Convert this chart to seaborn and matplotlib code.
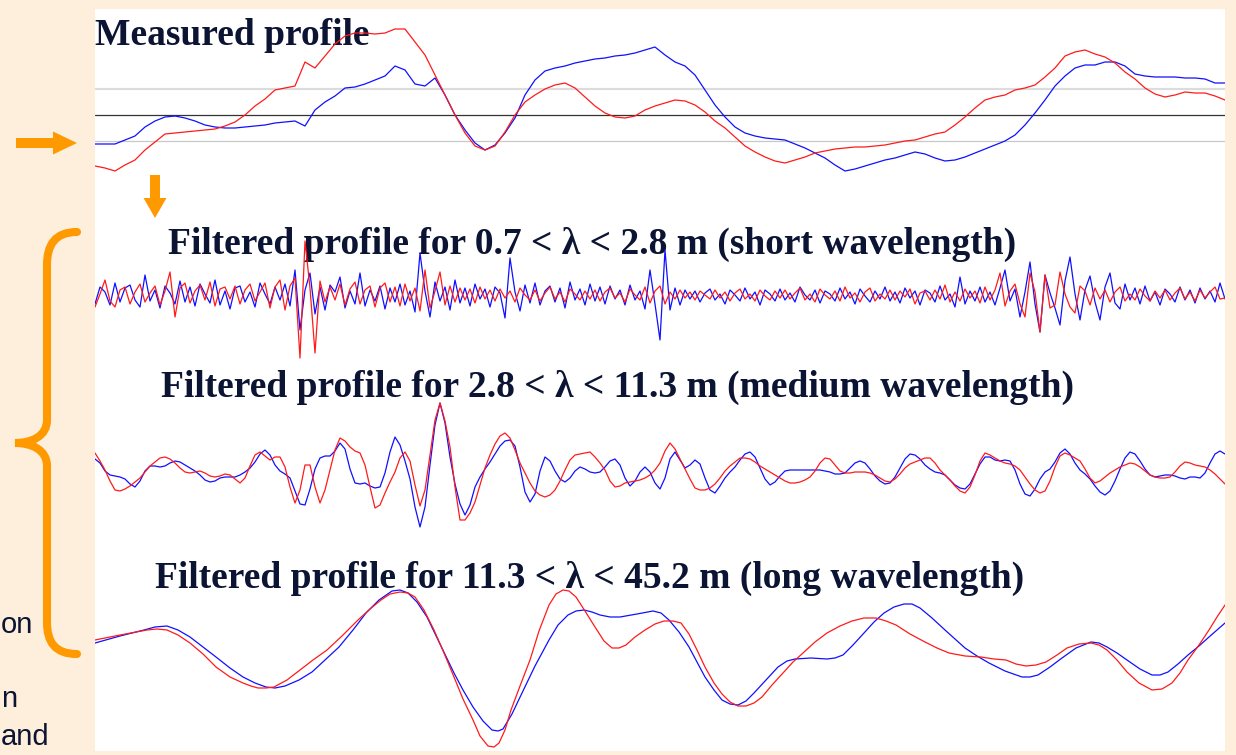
import numpy as np
import pandas as pd
import matplotlib
matplotlib.use("Agg")
import matplotlib.pyplot as plt
import seaborn as sns
from matplotlib.patches import Rectangle, FancyArrow, PathPatch
from matplotlib.path import Path

# -------------------------------------------------------------
# Data: road profile (heights in mm, distance in m), two wheel tracks
# -------------------------------------------------------------
# measured profile, one reading per metre
measured_step = 1.0
measured_blue = [
    -2.9, -2.9, -2.9, -2.5, -2.1, -1.2, -0.6, -0.2, -0.1, -0.3,
    -0.6, -1.0, -1.2, -1.3, -1.3, -1.2, -1.1, -1.0, -0.8, -0.7,
    -0.6, -1.1, 0.5, 1.3, 1.9, 2.7, 2.8, 3.1, 3.5, 3.9,
    4.9, 4.5, 3.1, 2.9, 3.7, 2.0, 0.0, -1.5, -2.8, -3.5,
    -3.0, -1.8, -0.3, 2.0, 3.5, 4.4, 4.7, 4.9, 5.2, 5.4,
    5.6, 5.7, 5.9, 6.0, 6.2, 6.5, 6.8, 6.0, 5.3, 4.9,
    4.0, 2.5, 1.0, -0.2, -1.2, -1.8, -2.1, -2.3, -2.4, -2.5,
    -2.9, -3.3, -3.8, -4.3, -5.0, -5.6, -5.4, -5.1, -4.8, -4.5,
    -4.3, -4.0, -3.7, -3.9, -4.3, -4.6, -4.5, -4.2, -3.8, -3.4,
    -3.0, -2.6, -2.0, -1.0, 0.2, 1.5, 2.9, 3.9, 4.7, 5.0,
    5.0, 5.3, 5.3, 4.9, 4.1, 3.9, 3.8, 3.8, 3.8, 3.7,
    3.7, 3.6, 3.2, 3.2,
]
measured_red = [
    -5.1, -5.3, -5.6, -5.0, -4.5, -3.5, -2.7, -1.9, -1.8, -1.7,
    -1.6, -1.5, -1.4, -1.1, -0.7, 0.0, 0.9, 1.6, 2.5, 2.7,
    2.9, 5.3, 4.7, 5.9, 7.1, 7.9, 8.2, 8.2, 8.1, 8.2,
    8.6, 8.6, 7.3, 6.0, 4.0, 2.0, 0.0, -1.8, -3.1, -3.5,
    -3.1, -1.7, 0.0, 1.3, 2.0, 2.6, 3.0, 3.2, 2.7, 1.8,
    0.9, 0.2, -0.2, -0.3, -0.1, 0.5, 0.9, 1.2, 1.5, 1.4,
    1.0, 0.3, -0.6, -1.3, -2.2, -3.1, -3.7, -4.2, -4.6, -4.8,
    -4.5, -4.2, -3.8, -3.6, -3.4, -3.3, -3.2, -3.2, -3.1, -3.0,
    -2.8, -2.6, -2.5, -2.2, -1.9, -1.7, -1.0, -0.2, 0.7, 1.5,
    1.8, 2.0, 2.5, 2.7, 3.0, 3.8, 4.7, 5.9, 6.3, 6.5,
    6.1, 5.8, 5.2, 4.3, 3.6, 2.7, 2.1, 1.8, 2.0, 2.3,
    2.2, 2.2, 1.9, 1.5,
]

# short wavelength band, one reading every 0.5 m
short_step = 0.5
short_blue = [
    -0.8, 0.9, 0.4, -0.9, 1.3, -0.6, 0.8, 1.1, -0.4, -1.1,
    2.1, -0.5, 0.6, -1.2, 1.0, 0.3, -0.8, 1.5, -0.6, 0.9,
    -1.0, 1.2, 0.2, -0.7, 1.6, -0.9, 0.5, -1.3, 0.8, 1.0,
    -0.6, 0.4, -1.1, 1.3, 0.2, -0.8, 0.9, -0.4, 1.2, -1.0,
    2.6, -3.4, 0.6, 2.3, -1.8, 0.9, -1.4, 1.1, 0.4, 1.9,
    -1.2, 0.5, -0.8, 2.3, -1.0, 0.6, -0.5, 1.0, -1.3, 0.8,
    -0.6, 1.2, -0.9, 0.5, -1.6, 4.3, 0.5, -2.1, 1.4, -0.5,
    0.9, -1.4, 1.6, -0.7, 0.8, -1.0, 1.2, -0.3, 0.7, -1.1,
    0.9, 0.3, -2.2, 3.8, 0.4, -1.5, 1.1, -0.7, 1.3, -0.9,
    0.5, 1.0, -0.6, 0.8, -1.2, 1.4, -0.4, 0.7, -0.9, 1.2,
    -0.5, 0.9, -0.8, 1.0, -0.3, 0.6, -0.9, 1.1, -0.4, 0.5,
    -1.3, 2.6, -0.8, -4.4, 4.6, -1.4, 0.8, -0.9, 0.6, -0.3,
    0.5, -0.6, 0.3, 0.7, -0.4, 0.2, -0.8, 0.6, 0.1, -0.5,
    0.8, -0.3, 0.4, -0.9, 0.6, 0.2, -0.5, 0.7, -0.4, 0.3,
    -0.6, 0.9, 0.1, -0.4, 0.6, -0.7, 0.5, 0.2, -0.5, 0.8,
    -0.3, 0.4, -0.8, 0.7, 0.0, -0.6, 0.5, -0.3, 0.9, -0.5,
    0.4, -0.7, 0.8, -0.2, 0.5, -0.9, 0.6, 0.3, -0.6, 1.0,
    -0.4, 0.2, -1.1, 1.9, -0.8, 0.5, -0.5, 0.9, -0.6, 0.4,
    -0.9, 0.8, 2.6, -0.5, 0.7, -2.1, 0.4, 3.4, -0.8, -3.6,
    2.1, 0.3, -1.2, -2.9, 1.5, 3.9, 0.2, -2.4, 0.6, 2.0,
    -0.6, -2.4, 0.9, 2.3, -0.7, -1.3, 1.2, -0.4, 0.8, -0.8,
    1.0, -0.5, 0.4, -0.9, 0.7, 0.2, -0.6, 0.9, -0.4, 0.6,
    -0.7, 0.8, -0.3, 0.5, -0.6, 1.3, -0.3,
]
short_red = [
    -1.1, 0.2, 1.6, -0.5, -1.1, 0.6, 0.9, -0.8, 0.4, 1.2,
    -0.6, 0.3, 1.0, -0.9, 0.5, 2.4, -2.1, 0.8, 1.3, -0.7,
    0.5, 1.1, -0.4, 1.4, -1.0, 0.7, 0.9, -0.3, 1.0, -0.8,
    0.6, 1.2, -0.5, 0.4, 1.3, -1.2, 0.9, 1.6, -1.4, 1.0,
    1.8, -6.2, 5.5, 0.8, -5.7, 1.5, -0.6, 0.9, -0.4, 1.2,
    -0.9, 0.7, 1.4, -0.8, 0.6, 1.0, -1.1, 0.8, 1.3, -0.6,
    0.9, -1.0, 1.2, -0.5, 0.8, -1.5, 2.6, -1.2, 0.5, 2.4,
    -0.9, 1.0, -0.6, 0.8, -0.4, 0.7, -0.7, 0.9, -0.3, 0.6,
    -0.5, 0.7, -0.2, 0.5, -0.6, 0.8, 0.1, -0.4, 0.6, -0.5,
    0.3, 0.9, -0.3, 0.4, -0.6, 0.7, 0.2, -0.4, 0.5, -0.3,
    0.6, -0.5, 0.4, 0.8, -0.2, 0.3, -0.6, 0.7, 0.1, -0.4,
    0.9, -0.7, 0.5, 1.0, -0.8, 0.4, -0.3, 0.6, -0.2, 0.4,
    -0.4, 0.5, 0.1, -0.3, 0.6, -0.2, 0.4, -0.5, 0.3, 0.7,
    -0.3, 0.2, -0.5, 0.6, 0.0, -0.4, 0.5, -0.2, 0.6, -0.3,
    0.3, 0.8, -0.4, 0.2, -0.6, 0.7, 0.1, -0.3, 0.5, -0.5,
    0.9, -0.2, 0.3, -0.6, 0.4, 0.8, -0.5, 0.2, -0.3, 0.6,
    -0.4, 0.5, -0.1, 0.7, -0.8, 0.3, 0.5, -0.4, 0.6, -0.3,
    1.1, -0.6, 0.4, -0.5, 0.7, -0.2, 0.5, -0.7, 0.9, -0.4,
    0.6, 2.3, -1.0, 0.5, 1.2, -0.8, -2.1, 2.3, 0.4, -3.6,
    2.1, -1.2, -0.9, 2.4, 0.2, -1.1, -1.7, 1.0, 0.5, -0.9,
    0.8, -0.3, 0.6, -0.6, 0.4, 0.9, -0.5, 0.2, -0.4, 0.7,
    0.0, -0.5, 0.5, -0.2, 0.6, -0.4, 0.3, 0.8, -0.3, 0.4,
    -0.5, 0.6, -0.2, 0.4, 0.9, -0.3, -0.2,
]

# medium wavelength band, one reading every 0.5 m
medium_step = 0.5
medium_blue = [
    1.6, 1.2, 0.4, 0.0, -0.1, -0.2, -0.4, -0.9, -1.2, -0.6,
    0.4, 0.9, 0.9, 0.8, 0.9, 1.2, 1.4, 1.3, 1.0, 0.7,
    0.4, 0.0, -0.5, -0.7, -0.6, -0.3, -0.2, -0.2, -0.2, 0.0,
    0.3, 0.7, 1.3, 2.1, 2.5, 2.0, 1.0, 0.4, 0.1, -0.3,
    -1.6, -2.9, -3.0, -1.4, 0.6, 1.7, 1.9, 1.9, 2.4, 3.2,
    2.6, 0.6, -0.8, -0.9, -0.8, -1.1, -1.3, -1.2, 0.2, 2.3,
    3.8, 3.0, 1.4, -0.4, -3.2, -5.2, -3.2, 1.0, 5.0, 7.2,
    5.2, 1.8, -0.9, -2.9, -4.0, -3.0, -1.2, -0.2, 0.6, 1.3,
    2.1, 2.9, 3.4, 3.5, 2.9, 0.8, -1.7, -2.7, -1.9, 0.4,
    1.8, 1.4, 0.4, -0.4, -0.7, -0.3, 0.4, 0.8, 0.6, 0.3,
    0.2, 0.3, 0.8, 1.4, 1.6, 1.0, -0.3, -1.1, -0.6, 0.3,
    0.8, 0.3, -0.8, -1.4, -0.3, 1.6, 2.3, 1.5, 0.7, 1.0,
    1.5, 1.1, -0.3, -1.5, -1.8, -1.1, -0.3, 0.3, 0.8, 1.5,
    2.1, 2.3, 1.8, 0.7, -0.4, -1.0, -0.7, -0.1, 0.4, 0.5,
    0.5, 0.5, 0.5, 0.5, 0.5, 0.5, 0.4, 0.3, 0.1, 0.1,
    0.2, 0.7, 1.2, 1.4, 1.2, 0.6, -0.1, -0.6, -0.9, -0.8,
    -0.2, 0.7, 1.6, 2.1, 2.0, 1.6, 1.0, 0.6, 0.3, 0.2,
    0.0, -0.5, -1.0, -1.3, -1.4, -0.9, 0.1, 1.1, 1.8, 1.8,
    1.5, 1.4, 1.5, 1.4, 0.5, -0.9, -1.9, -2.1, -1.4, -0.4,
    0.3, 0.6, 1.3, 2.2, 2.6, 2.1, 1.2, 0.5, 0.1, -0.4,
    -1.1, -1.7, -2.0, -1.6, -0.6, 0.6, 1.7, 2.3, 2.1, 1.4,
    0.6, 0.0, -0.2, -0.1, 0.0, 0.0, -0.1, -0.3, -0.4, -0.2,
    -0.2, -0.3, 0.2, 1.2, 2.1, 2.4, 2.1,
]
medium_red = [
    2.2, 1.4, 0.5, -0.6, -1.5, -1.6, -1.4, -1.1, -0.7, -0.3,
    0.3, 0.9, 1.3, 1.7, 1.8, 1.6, 1.2, 0.7, 0.3, 0.2,
    0.3, 0.4, 0.2, -0.1, -0.2, -0.1, 0.1, 0.0, -0.4, -0.8,
    -0.3, 0.9, 2.0, 2.3, 1.9, 1.5, 1.8, 1.8, 0.8, -1.2,
    -2.8, -1.5, 1.0, 1.0, -1.2, -2.8, -1.5, 0.5, 2.5, 3.7,
    3.4, 2.8, 2.4, 2.2, 1.0, -1.2, -3.3, -3.0, -1.8, -0.7,
    0.3, 1.7, 2.3, 1.4, -1.0, -3.1, -1.5, 2.0, 5.5, 7.2,
    5.4, 2.8, -1.2, -4.5, -4.5, -3.8, -2.7, -1.0, 0.7, 2.0,
    3.1, 3.9, 4.2, 3.7, 2.5, 1.2, 0.2, -0.8, -1.6, -2.0,
    -2.2, -2.0, -1.5, -0.6, 0.5, 1.5, 2.0, 2.1, 2.2, 2.3,
    1.8, 1.2, 0.5, -0.6, -1.2, -1.1, -0.8, -0.7, -0.6, -0.5,
    -0.3, 0.0, 0.5, 1.2, 2.4, 3.2, 2.6, 1.6, 0.6, -0.4,
    -1.3, -1.5, -1.5, -1.3, -0.9, -0.3, 0.4, 0.9, 1.3, 1.7,
    1.7, 1.6, 1.3, 0.9, 0.6, 0.3, 0.0, -0.3, -0.6, -0.8,
    -0.8, -0.7, -0.5, -0.2, 0.4, 1.2, 1.7, 1.6, 1.0, 0.4,
    0.2, 0.2, 0.3, 0.3, 0.3, 0.2, 0.0, -0.3, -0.6, -0.7,
    -0.4, 0.1, 0.7, 1.1, 1.3, 1.5, 1.7, 1.7, 1.2, 0.5,
    0.0, -0.5, -1.1, -1.6, -1.8, -1.2, 0.0, 1.4, 2.2, 2.0,
    1.7, 1.4, 1.2, 1.1, 0.9, 0.5, -0.2, -0.9, -1.5, -1.8,
    -1.6, -0.6, 0.8, 1.9, 2.2, 2.0, 1.7, 1.4, 0.6, -0.3,
    -0.8, -0.6, -0.2, 0.2, 0.5, 0.8, 1.0, 1.2, 1.1, 0.8,
    0.4, 0.0, -0.2, -0.3, -0.3, -0.2, 0.3, 0.9, 1.3, 1.2,
    1.0, 0.9, 0.8, 0.5, 0.1, -0.4, -0.9,
]

# long wavelength band (readings along the curve)
long_blue_dist = [
    0.0, 2.5, 4.9, 6.0, 7.2, 8.3, 9.5, 10.8, 12.1, 13.5,
    14.8, 16.0, 17.1, 18.0, 19.0, 20.4, 21.7, 23.0, 24.4, 25.8,
    27.1, 28.4, 29.7, 30.5, 31.3, 32.2, 33.2, 34.5, 35.9, 36.8,
    37.8, 38.8, 39.7, 40.3, 40.8, 41.7, 42.7, 44.0, 45.4, 46.3,
    47.3, 48.1, 48.9, 49.7, 50.5, 51.5, 52.5, 54.2, 55.8, 56.6,
    57.4, 58.4, 59.4, 60.2, 61.0, 61.9, 62.7, 63.5, 64.3, 65.1,
    65.9, 67.1, 68.3, 69.2, 70.0, 71.6, 73.2, 74.0, 74.8, 75.8,
    76.9, 77.9, 78.9, 79.9, 80.9, 81.7, 82.5, 83.7, 85.0, 86.0,
    87.0, 88.2, 89.4, 91.0, 92.7, 93.5, 94.3, 95.5, 96.7, 98.1,
    99.6, 100.4, 101.2, 102.2, 103.2, 104.5, 105.7, 106.5, 107.3, 108.3,
    109.3, 110.4, 111.4, 112.2, 113.0,
]
long_blue_mm = [
    1.7, 2.4, 3.0, 3.3, 3.4, 3.0, 2.3, 1.3, 0.3, -0.8,
    -1.7, -2.3, -2.7, -2.8, -2.6, -2.0, -1.2, 0.0, 1.3, 3.0,
    4.7, 6.0, 6.9, 7.0, 6.7, 5.8, 4.3, 1.6, -1.3, -3.0,
    -4.7, -6.1, -7.0, -7.1, -6.9, -5.4, -3.3, -0.6, 2.0, 3.5,
    4.5, 4.9, 5.0, 4.8, 4.5, 4.3, 4.3, 4.6, 4.9, 4.7,
    4.0, 2.8, 1.3, -0.2, -1.7, -3.0, -4.0, -4.4, -4.5, -4.1,
    -3.3, -2.0, -0.7, -0.1, 0.1, 0.2, 0.1, 0.2, 0.5, 1.5,
    2.7, 3.8, 4.7, 5.3, 5.6, 5.6, 5.2, 4.2, 3.0, 2.1,
    1.2, 0.4, -0.3, -1.1, -1.7, -1.7, -1.5, -0.7, 0.2, 1.2,
    1.8, 1.7, 1.3, 0.7, 0.0, -0.9, -1.5, -1.5, -1.2, -0.4,
    0.5, 1.4, 2.3, 3.0, 3.7,
]
long_red_dist = [
    0.0, 2.5, 5.2, 6.2, 7.2, 8.3, 9.5, 10.8, 12.1, 13.5,
    14.8, 15.6, 16.3, 17.1, 17.9, 19.2, 20.5, 21.8, 23.2, 24.8,
    26.3, 27.5, 28.6, 29.5, 30.5, 31.3, 32.0, 32.9, 33.9, 34.9,
    35.9, 36.8, 37.8, 38.5, 39.3, 39.9, 40.4, 41.0, 41.6, 42.5,
    43.5, 44.4, 45.4, 46.1, 46.8, 47.4, 48.1, 49.0, 50.0, 50.9,
    51.7, 52.4, 53.1, 54.0, 55.0, 56.0, 56.9, 57.8, 58.6, 59.4,
    60.2, 61.0, 61.9, 62.7, 63.5, 64.3, 65.1, 65.9, 66.7, 67.7,
    68.8, 69.8, 70.8, 72.0, 73.2, 74.5, 75.7, 76.9, 78.1, 79.1,
    80.1, 81.5, 83.0, 84.2, 85.4, 87.0, 88.6, 89.9, 91.1, 92.1,
    93.1, 94.1, 95.1, 96.2, 97.2, 98.4, 99.6, 100.4, 101.2, 102.2,
    103.2, 104.4, 105.7, 106.7, 107.7, 108.5, 109.3, 110.4, 111.4, 112.2,
    113.0,
]
long_red_mm = [
    2.0, 2.5, 3.0, 3.1, 3.0, 2.5, 1.7, 0.6, -0.7, -1.7,
    -2.3, -2.6, -2.8, -2.8, -2.7, -2.0, -1.0, 0.0, 1.0, 2.5,
    4.0, 5.1, 6.0, 6.6, 6.8, 6.7, 6.3, 5.0, 3.0, 0.7,
    -1.7, -3.9, -6.0, -7.6, -8.6, -8.7, -8.3, -7.0, -5.0, -2.6,
    0.0, 2.9, 5.5, 6.6, 7.0, 6.9, 6.3, 4.9, 3.3, 1.9,
    1.2, 1.2, 1.5, 2.3, 3.0, 3.6, 3.9, 3.9, 3.7, 2.6,
    1.0, -0.7, -2.3, -3.4, -4.2, -4.6, -4.6, -4.3, -3.7, -2.5,
    -1.3, -0.2, 0.7, 1.8, 2.7, 3.4, 3.9, 4.2, 4.2, 3.9,
    3.5, 2.6, 1.8, 1.2, 0.7, 0.4, 0.3, 0.1, 0.0, -0.4,
    -0.6, -0.5, -0.2, 0.5, 1.2, 1.6, 1.7, 1.5, 1.0, 0.0,
    -1.2, -2.3, -3.0, -2.9, -2.3, -1.3, 0.0, 1.5, 3.0, 4.3,
    5.5,
]

titles = [
    "Measured profile",
    "Filtered profile for 0.7 < \u03bb < 2.8 m (short wavelength)",
    "Filtered profile for 2.8 < \u03bb < 11.3 m (medium wavelength)",
    "Filtered profile for 11.3 < \u03bb < 45.2 m (long wavelength)",
]
side_words = ["on", "n", "and"]

# -------------------------------------------------------------
# Style
# -------------------------------------------------------------
W, H = 1236, 755
BEIGE = "#fdefdc"
ORANGE = "#ff9900"
NAVY = "#0b1433"
BLUE = "#1010ff"
RED = "#ff1a1a"
PX_PER_MM = 10
X0, X1 = 95, 1225          # white panel, left / right edge in px
LENGTH = (X1 - X0) / PX_PER_MM

sns.set_theme(style="white")
plt.rcParams["font.family"] = ["Liberation Sans", "DejaVu Sans"]
serif = ["Liberation Serif", "DejaVu Serif"]

fig = plt.figure(figsize=(W / 100, H / 100), dpi=100, facecolor=BEIGE)

# background layer in pixel units (slide decoration + titles)
bg = fig.add_axes([0, 0, 1, 1])
bg.set_xlim(0, W)
bg.set_ylim(H, 0)
bg.axis("off")
bg.add_patch(Rectangle((X0, 9), X1 - X0, 742, facecolor="white", edgecolor="none"))

# orange arrows
bg.add_patch(FancyArrow(16, 143, 61, 0, width=10, head_width=23, head_length=24,
                        length_includes_head=True, color=ORANGE, lw=0))
bg.add_patch(FancyArrow(155, 175, 0, 43, width=10, head_width=23, head_length=20,
                        length_includes_head=True, color=ORANGE, lw=0))

# curly brace
brace = Path(
    [(77, 232), (55, 232), (47, 245), (47, 265), (47, 420),
     (47, 436), (32, 443), (15, 443), (32, 443), (47, 450), (47, 466),
     (47, 622), (47, 642), (55, 654), (77, 654)],
    [Path.MOVETO, Path.CURVE4, Path.CURVE4, Path.CURVE4, Path.LINETO,
     Path.CURVE4, Path.CURVE4, Path.CURVE4, Path.CURVE4, Path.CURVE4, Path.CURVE4,
     Path.LINETO, Path.CURVE4, Path.CURVE4, Path.CURVE4],
)
bg.add_patch(PathPatch(brace, facecolor="none", edgecolor=ORANGE, lw=5.8, capstyle="round"))

# titles (baseline positions in px)
title_pos = [(95, 45), (168, 254), (161, 397), (155, 588)]
for txt, (tx, ty) in zip(titles, title_pos):
    bg.text(tx, ty, txt, family=serif, fontweight="bold", fontsize=27,
            color=NAVY, ha="left", va="baseline")

# words of the slide's left column
for word, (tx, ty) in zip(side_words, [(1, 633), (1, 707), (1, 745)]):
    bg.text(tx, ty, word, fontsize=21, color=NAVY, ha="left", va="baseline")


def panel(top, bottom, base):
    ax = fig.add_axes([X0 / W, 1 - bottom / H, (X1 - X0) / W, (bottom - top) / H])
    ax.set_xlim(0, LENGTH)
    ax.set_ylim((base - bottom) / PX_PER_MM, (base - top) / PX_PER_MM)
    ax.axis("off")
    return ax


def trace(ax, dist, mm, color):
    sns.lineplot(x=dist, y=mm, ax=ax, color=color, lw=0.9, legend=False)


def grid(values, step):
    return np.arange(len(values)) * step


# measured profile
ax1 = panel(9, 200, 115)
ax1.axhline(2.6, color="#dcdcdc", lw=1.6)
ax1.axhline(0, color="#333333", lw=0.9)
ax1.axhline(-2.6, color="#c8c8c8", lw=0.9)
trace(ax1, grid(measured_blue, measured_step), measured_blue, BLUE)
trace(ax1, grid(measured_red, measured_step), measured_red, RED)

# short wavelength
ax2 = panel(200, 380, 296)
trace(ax2, grid(short_blue, short_step), short_blue, BLUE)
trace(ax2, grid(short_red, short_step), short_red, RED)

# medium wavelength
ax3 = panel(380, 560, 475)
trace(ax3, grid(medium_blue, medium_step), medium_blue, BLUE)
trace(ax3, grid(medium_red, medium_step), medium_red, RED)

# long wavelength
ax4 = panel(560, 751, 660)
trace(ax4, long_blue_dist, long_blue_mm, BLUE)
trace(ax4, long_red_dist, long_red_mm, RED)

fig.savefig("out.png", dpi=100, facecolor=fig.get_facecolor())
